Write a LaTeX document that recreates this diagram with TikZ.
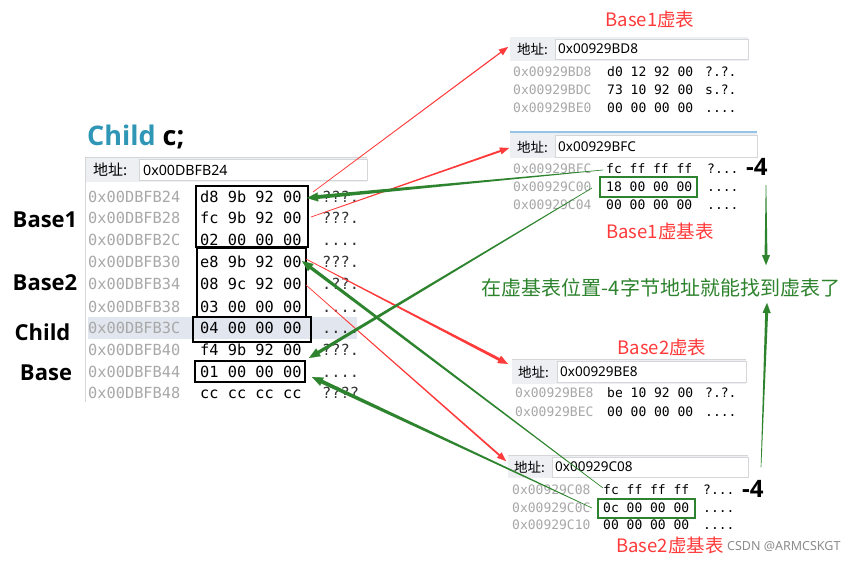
\documentclass[tikz,border=0pt]{standalone}
\usepackage{fontspec}
\setmainfont{Noto Sans CJK SC}
\newfontfamily\monof{DejaVu Sans Mono}
\newfontfamily\latinf{Noto Sans}
\newfontfamily\latinb{Open Sans}
\usetikzlibrary{calc,arrows.meta}
\definecolor{myred}{RGB}{255,58,58}
\definecolor{mygreen}{RGB}{46,132,46}
\definecolor{tealc}{RGB}{48,150,182}
\definecolor{addrgray}{RGB}{168,168,168}
\definecolor{band}{RGB}{238,239,243}
\definecolor{hl}{RGB}{226,231,239}
\definecolor{boxline}{RGB}{212,214,218}
\definecolor{bluetop}{RGB}{150,195,230}
\newcommand\mydotsfour{....}
\newcommand\myqthree{?...}
% tapered arrow: colour, from, to, start half-width, end half-width, head length, head width
\newcommand\tarrow[7]{%
  \coordinate (tA) at (#2);
  \coordinate (tB) at (#3);
  \coordinate (tE) at ($(tB)!5pt!(tA)$);
  \fill[#1] ($(tA)!#4!90:(tB)$) -- ($(tE)!#5!-90:(tA)$) -- ($(tE)!#5!90:(tA)$) -- ($(tA)!#4!-90:(tB)$) -- cycle;
  \draw[#1, line width=0.2pt, -{Triangle[length=#6, width=#7]}] ($(tB)!13pt!(tA)$) -- (tB);
}
\begin{document}
\begin{tikzpicture}[x=1pt,y=-1pt,
  mono/.style={font=\monof\fontsize{15.3}{16}\selectfont, anchor=base west, inner sep=0pt},
  monos/.style={font=\monof\fontsize{13}{14}\selectfont, anchor=base west, inner sep=0pt},
  lbl/.style={font=\latinb\bfseries\fontsize{22}{24}\selectfont, anchor=base, inner sep=0pt},
  rtitle/.style={font=\fontsize{18.5}{20}\selectfont, text=myred, inner sep=0pt},
  hdrlab/.style={font=\fontsize{13.5}{15}\selectfont, anchor=west, inner sep=0pt},
  hdraddr/.style={font=\latinf\fontsize{13.5}{15}\selectfont, anchor=west, inner sep=0pt},
  blackbox/.style={draw=black, line width=2.5pt},
  greenbox/.style={draw=mygreen, line width=2pt},
  minus/.style={font=\latinb\bfseries\fontsize{24}{26}\selectfont, anchor=base west, inner sep=0pt}]
\useasboundingbox (0,0) rectangle (845,560);
\fill[white] (0,0) rectangle (845,560);

% ---------------- left memory panel ----------------
\node[anchor=base west, inner sep=0pt, font=\latinb\bfseries\fontsize{27}{29}\selectfont] (title) at (87,145) {\textcolor{tealc}{Child} c;};
\fill[band] (85,157) rectangle (367,182);
\draw[boxline] (85,157) -- (367,157);
\filldraw[fill=white, draw=boxline] (139,159) rectangle (367,180);
\draw[boxline, line width=1pt] (85,157) -- (85,402);
\node[hdrlab, font=\fontsize{15}{16}\selectfont] (lh1) at (93,170) {地址:};
\node[hdraddr, font=\latinf\fontsize{14.2}{16}\selectfont] (lh2) at (143,170) {0x00DBFB24};
\fill[hl] (88,317) rectangle (357,339);

\foreach \i/\y/\ad/\by/\as in {
 1/197/0x00DBFB24/d8 9b 92 00/???.,
 2/218/0x00DBFB28/fc 9b 92 00/???.,
 3/240/0x00DBFB2C/02 00 00 00/\mydotsfour,
 4/262/0x00DBFB30/e8 9b 92 00/???.,
 5/284/0x00DBFB34/08 9c 92 00/.??.,
 6/307/0x00DBFB38/03 00 00 00/\mydotsfour,
 7/328/0x00DBFB3C/04 00 00 00/\mydotsfour,
 8/350/0x00DBFB40/f4 9b 92 00/???.,
 9/372/0x00DBFB44/01 00 00 00/\mydotsfour,
 10/393/0x00DBFB48/cc cc cc cc/????}
{
  \node[mono, text=addrgray] (la\i) at (88,\y+5.6) {\ad};
  \node[mono] (lb\i) at (200,\y+5.6) {\by};
  \node[mono, text=black!80] (lc\i) at (322,\y+5.6) {\as};
}

\draw[blackbox] (196,186) rectangle (308,247);
\draw[blackbox] (197,248) rectangle (306,317);
\draw[blackbox] (193,317) rectangle (311,342);
\draw[blackbox] (195,361) rectangle (305,382);

\node[lbl] (nb1) at (45,227) {Base1};
\node[lbl] (nb2) at (45,290) {Base2};
\node[lbl] (nch) at (42.5,340) {Child};
\node[lbl] (nba) at (46,380) {Base};

% ---------------- right panel A: Base1 vtable ----------------
\node[rtitle] (ta) at (650,19) {Base1虚表};
\fill[band] (510,37) rectangle (748,61);
\filldraw[fill=white, draw=boxline] (555,39) rectangle (748,59);
\node[hdrlab] (ah1) at (517,49) {地址:};
\node[hdraddr] (ah2) at (558,49) {0x00929BD8};
\foreach \i/\y/\ad/\by/\as in {
 1/72/0x00929BD8/d0 12 92 00/?.?.,
 2/90/0x00929BDC/73 10 92 00/s.?.,
 3/108/0x00929BE0/00 00 00 00/\mydotsfour}
{
  \node[monos, text=addrgray] (aa\i) at (513,\y+4.7) {\ad};
  \node[monos] (ab\i) at (607,\y+4.7) {\by};
  \node[monos] (ac\i) at (705,\y+4.7) {\as};
}

% ---------------- right panel B: Base1 vbtable ----------------
\fill[band] (510,132) rectangle (757,158);
\draw[bluetop, line width=1.5pt] (510,132) -- (757,132);
\filldraw[fill=white, draw=boxline] (555,135) rectangle (757,157);
\node[hdrlab] (bh1) at (517,147) {地址:};
\node[hdraddr] (bh2) at (558,147) {0x00929BFC};
\foreach \i/\y/\ad/\by/\as in {
 1/169/0x00929BFC/fc ff ff ff/\myqthree,
 2/187/0x00929C00/18 00 00 00/\mydotsfour,
 3/205/0x00929C04/00 00 00 00/\mydotsfour}
{
  \node[monos, text=addrgray] (ba\i) at (513,\y+4.7) {\ad};
  \node[monos] (bb\i) at (606,\y+4.7) {\by};
  \node[monos] (bc\i) at (707,\y+4.7) {\as};
}
\draw[greenbox] (600,177) rectangle (697,197);
\node[minus] (m1) at (746,175) {-4};
\node[rtitle] (tb) at (660,231) {Base1虚基表};

% ---------------- note ----------------
\node[font=\fontsize{20}{22}\selectfont, text=mygreen, inner sep=0pt] (note) at (661,288) {在虚基表位置-4字节地址就能找到虚表了};

% ---------------- right panel C: Base2 vtable ----------------
\node[rtitle] (tc) at (662,347) {Base2虚表};
\fill[band] (512,359) rectangle (746,384);
\draw[boxline] (512,359) -- (746,359);
\filldraw[fill=white, draw=boxline] (557,361) rectangle (746,382);
\node[hdrlab] (ch1) at (518,372) {地址:};
\node[hdraddr] (ch2) at (560,372) {0x00929BE8};
\foreach \i/\y/\ad/\by/\as in {
 1/393/0x00929BE8/be 10 92 00/?.?.,
 2/412/0x00929BEC/00 00 00 00/\mydotsfour}
{
  \node[monos, text=addrgray] (ca\i) at (515,\y+4.7) {\ad};
  \node[monos] (cb\i) at (607,\y+4.7) {\by};
  \node[monos] (cc\i) at (705,\y+4.7) {\as};
}

% ---------------- right panel D: Base2 vbtable ----------------
\fill[band] (508,455) rectangle (748,478);
\draw[boxline] (508,455) -- (748,455);
\filldraw[fill=white, draw=boxline] (552,457) rectangle (748,477);
\node[hdrlab] (dh1) at (514,467) {地址:};
\node[hdraddr] (dh2) at (555,467) {0x00929C08};
\foreach \i/\y/\ad/\by/\as in {
 1/490/0x00929C08/fc ff ff ff/\myqthree,
 2/508/0x00929C0C/0c 00 00 00/\mydotsfour,
 3/525/0x00929C10/00 00 00 00/\mydotsfour}
{
  \node[monos, text=addrgray] (da\i) at (512,\y+4.7) {\ad};
  \node[monos] (db\i) at (603,\y+4.7) {\by};
  \node[monos] (dc\i) at (703,\y+4.7) {\as};
}
\draw[greenbox] (598,499) rectangle (695,518);
\node[minus] (m2) at (742,497) {-4};
\node[rtitle] (td) at (670,545) {Base2虚基表};
\node[anchor=base west, inner sep=0pt, text=black!45, font=\latinf\fontsize{12.5}{14}\selectfont] (wm) at (727,550) {CSDN @ARMCSKGT};

% ---------------- arrow end points ----------------
\coordinate (r1s) at (313,192);  \coordinate (r1e) at (508,47);
\coordinate (r2s) at (311,217);  \coordinate (r2e) at (509,148);
\coordinate (r3s) at (306,259);  \coordinate (r3e) at (508,364);
\coordinate (r4s) at (306,285);  \coordinate (r4e) at (506,461);
\coordinate (g1s) at (603,170);  \coordinate (g1e) at (307,198);
\coordinate (g2s) at (592,188);  \coordinate (g2e) at (309,358);
\coordinate (g3s) at (603,488);  \coordinate (g3e) at (302,261);
\coordinate (g4s) at (592,508);  \coordinate (g4e) at (312,377);
\coordinate (v1s) at (766,185);  \coordinate (v1e) at (766,265);
\coordinate (v2s) at (761,467);  \coordinate (v2e) at (767,303);

% ---------------- arrows ----------------
\tarrow{myred}{r1s}{r1e}{0.35pt}{0.6pt}{9pt}{7pt}
\tarrow{myred}{r2s}{r2e}{0.35pt}{1.0pt}{9pt}{7pt}
\tarrow{myred}{r3s}{r3e}{0.35pt}{1.5pt}{10pt}{8pt}
\tarrow{myred}{r4s}{r4e}{0.35pt}{0.9pt}{9pt}{7pt}
\tarrow{mygreen}{g1s}{g1e}{0.3pt}{2.0pt}{11pt}{9pt}
\tarrow{mygreen}{g2s}{g2e}{0.3pt}{1.7pt}{11pt}{9pt}
\tarrow{mygreen}{g3s}{g3e}{0.3pt}{1.7pt}{11pt}{9pt}
\tarrow{mygreen}{g4s}{g4e}{0.3pt}{2.0pt}{11pt}{9pt}
\tarrow{mygreen}{v1s}{v1e}{0.3pt}{1.5pt}{10pt}{8pt}
\tarrow{mygreen}{v2s}{v2e}{0.3pt}{1.5pt}{10pt}{8pt}
\end{tikzpicture}
\end{document}
